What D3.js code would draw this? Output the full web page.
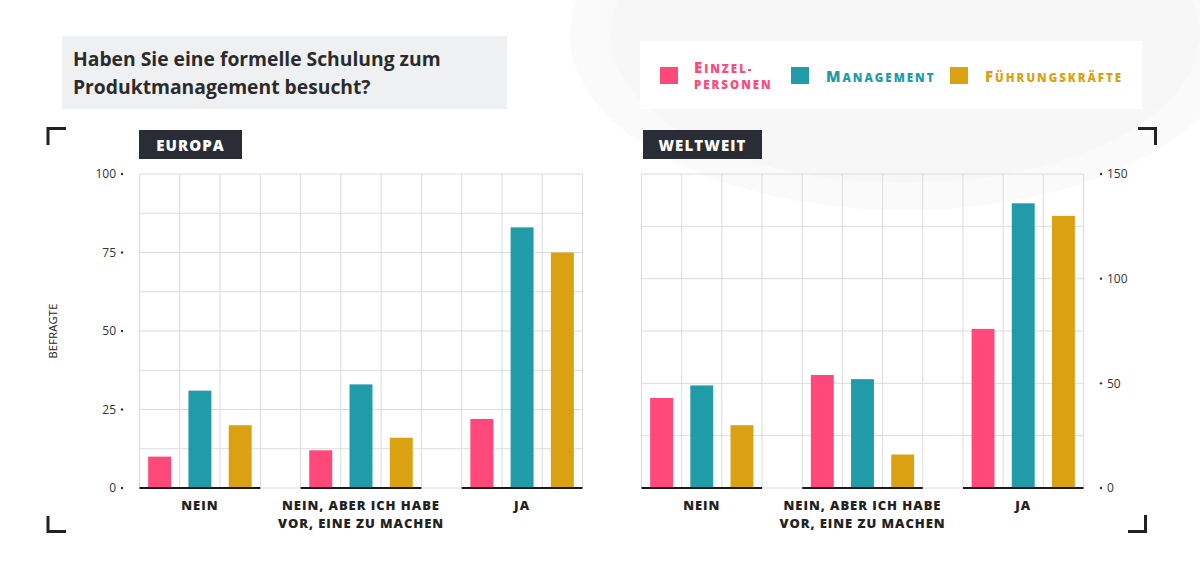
<!DOCTYPE html>
<html>
<head>
<meta charset="utf-8">
<script src="https://cdn.jsdelivr.net/npm/d3@7"></script>
<style>
  body { margin: 0; background: #fff; }
  svg { display: block; font-family: "Open Sans", "Lato", sans-serif; }
  .tick-label { font-size: 12px; fill: #333; }
  .cat-label { font-size: 13px; font-weight: 800; fill: #222; letter-spacing: 0.95px; }
</style>
</head>
<body>
<div class="chart"></div>
<script>

////////// DATA //////////

var categories = [["NEIN"], ["NEIN, ABER ICH HABE", "VOR, EINE ZU MACHEN"], ["JA"]];
var seriesNames = ["Einzelpersonen", "Management", "Führungskräfte"];
var colours = ["#ff497a", "#229ba9", "#daa212"];

var europa = [
  [10, 31, 20],
  [12, 33, 16],
  [22, 83, 75]
];
var weltweit = [
  [43, 49, 30],
  [54, 52, 16],
  [76, 136, 130]
];

var europaTicks = [0, 25, 50, 75, 100];
var weltweitTicks = [0, 50, 100, 150];


////////// SETUP //////////

var width = 1200, height = 566;

var svg = d3.select(".chart")
  .append("svg")
  .attr("width", width)
  .attr("height", height);

// faint background blob top right
svg.append("ellipse")
  .attr("cx", 905).attr("cy", 35).attr("rx", 335).attr("ry", 175)
  .attr("fill", "#fafafa");
svg.append("ellipse")
  .attr("cx", 905).attr("cy", 35).attr("rx", 295).attr("ry", 148)
  .attr("fill", "#f7f7f8");

// title box
svg.append("rect")
  .attr("x", 62).attr("y", 36).attr("width", 445).attr("height", 73)
  .attr("fill", "#eff0f2");

var title = svg.append("text")
  .attr("x", 73)
  .attr("font-size", "19.3px")
  .attr("font-weight", 700)
  .attr("fill", "#2b2b2b");
title.append("tspan").attr("x", 73).attr("y", 66).text("Haben Sie eine formelle Schulung zum");
title.append("tspan").attr("x", 73).attr("y", 94).text("Produktmanagement besucht?");


////////// LEGEND //////////

svg.append("rect")
  .attr("x", 640).attr("y", 41).attr("width", 502).attr("height", 68)
  .attr("fill", "#fff");

var legendPos = [660, 791, 950];
// each line: [large capital part, small capital part]
var legendText = [[["E", "INZEL-"], ["", "PERSONEN"]], [["M", "ANAGEMENT"]], [["F", "ÜHRUNGSKRÄFTE"]]];

legendPos.forEach(function(lx, i) {
  svg.append("rect")
    .attr("x", lx).attr("y", 67).attr("width", 18).attr("height", 17)
    .attr("fill", colours[i]);
  var lines = legendText[i];
  lines.forEach(function(line, j) {
    var t = svg.append("text")
      .attr("x", lines.length == 2 ? lx + 34 : lx + 35)
      .attr("y", lines.length == 2 ? 72.5 + j * 16.5 : 81.5)
      .attr("fill", colours[i])
      .attr("font-weight", 800)
      .style("letter-spacing", "2px");
    if (line[0]) t.append("tspan").attr("font-size", "15px").text(line[0]);
    t.append("tspan").attr("font-size", "11.5px").text(line[1]);
  });
});


////////// CORNER BRACKETS //////////

var brackets = [
  "M48,145 L48,128.5 L66,128.5",
  "M48,516 L48,531.5 L66,531.5",
  "M1138,128.5 L1155.5,128.5 L1155.5,145",
  "M1128,531.5 L1145.5,531.5 L1145.5,515"
];
svg.selectAll(".bracket")
  .data(brackets)
  .enter()
  .append("path")
  .attr("class", "bracket")
  .attr("d", function(d) { return d; })
  .attr("fill", "none")
  .attr("stroke", "#222")
  .attr("stroke-width", 3);


////////// PANELS //////////

function drawPanel(opts) {
  var x0 = opts.x0, x1 = opts.x1, top = 174, bottom = 488;

  var xGroup = d3.scaleBand()
    .domain(d3.range(categories.length))
    .range([x0, x1])
    .paddingInner(0.25)
    .paddingOuter(0);

  var colW = xGroup.step() / 4;

  var xSeries = d3.scaleBand()
    .domain(d3.range(seriesNames.length))
    .range([0, xGroup.bandwidth()])
    .paddingInner(0.43)
    .paddingOuter(0.215);

  var y = d3.scaleLinear()
    .domain([0, opts.max])
    .range([bottom, top]);

  var g = svg.append("g");

  // panel label
  g.append("rect")
    .attr("x", opts.labelX).attr("y", 130)
    .attr("width", opts.labelW).attr("height", 29)
    .attr("fill", "#2a2d35");
  g.append("text")
    .attr("x", opts.labelX + opts.labelW / 2).attr("y", 150.5)
    .attr("text-anchor", "middle")
    .attr("fill", "#fff")
    .attr("font-size", "15px")
    .attr("font-weight", 800)
    .style("letter-spacing", "1.1px")
    .text(opts.label);

  // grid
  var grid = g.append("g").attr("class", "grid");
  grid.selectAll(".vline")
    .data(d3.range(12))
    .enter()
    .append("line")
    .attr("x1", function(i) { return x0 + i * colW; })
    .attr("x2", function(i) { return x0 + i * colW; })
    .attr("y1", top).attr("y2", bottom)
    .attr("stroke", "#dcdce0")
    .attr("stroke-width", 1);
  grid.selectAll(".hline")
    .data(d3.range(0, opts.max + 0.001, opts.gridStep))
    .enter()
    .append("line")
    .attr("x1", x0).attr("x2", x1)
    .attr("y1", function(d) { return y(d); })
    .attr("y2", function(d) { return y(d); })
    .attr("stroke", "#dcdce0")
    .attr("stroke-width", 1);

  // bars
  var groups = g.selectAll(".group")
    .data(opts.data)
    .enter()
    .append("g")
    .attr("class", "group")
    .attr("transform", function(d, i) { return "translate(" + xGroup(i) + ",0)"; });

  groups.selectAll("rect")
    .data(function(d) { return d; })
    .enter()
    .append("rect")
    .attr("x", function(d, i) { return xSeries(i); })
    .attr("width", xSeries.bandwidth())
    .attr("y", function(d) { return y(d); })
    .attr("height", function(d) { return bottom - y(d); })
    .attr("fill", function(d, i) { return colours[i]; });

  // baseline per group
  groups.append("line")
    .attr("x1", 0).attr("x2", xGroup.bandwidth())
    .attr("y1", bottom).attr("y2", bottom)
    .attr("stroke", "#1a1a1a")
    .attr("stroke-width", 2);

  // category labels
  groups.append("text")
    .attr("class", "cat-label")
    .attr("text-anchor", "middle")
    .selectAll("tspan")
    .data(function(d, i) { return categories[i]; })
    .enter()
    .append("tspan")
    .attr("x", xGroup.bandwidth() / 2)
    .attr("y", function(d, j) { return 509.5 + j * 18; })
    .text(function(d) { return d; });

  // y axis
  var axis = g.append("g").attr("class", "y-axis");
  var ticks = axis.selectAll(".tick")
    .data(opts.ticks)
    .enter()
    .append("g")
    .attr("transform", function(d) { return "translate(0," + y(d) + ")"; });

  ticks.append("circle")
    .attr("cx", opts.dotX).attr("cy", 0).attr("r", 1.2)
    .attr("fill", "#333");
  ticks.append("text")
    .attr("class", "tick-label")
    .attr("x", opts.textX)
    .attr("dy", "0.35em")
    .attr("text-anchor", opts.anchor)
    .text(function(d) { return d; });
}

drawPanel({
  x0: 139.5, x1: 582.5, max: 100, gridStep: 12.5,
  data: europa, ticks: europaTicks,
  label: "EUROPA", labelX: 139, labelW: 103,
  dotX: 122, textX: 116, anchor: "end"
});

drawPanel({
  x0: 641.5, x1: 1083.5, max: 150, gridStep: 25,
  data: weltweit, ticks: weltweitTicks,
  label: "WELTWEIT", labelX: 643, labelW: 119,
  dotX: 1101, textX: 1107, anchor: "start"
});

// y axis title
svg.append("text")
  .attr("transform", "translate(57,331) rotate(-90)")
  .attr("text-anchor", "middle")
  .attr("font-size", "11px")
  .attr("fill", "#222")
  .style("letter-spacing", "0.3px")
  .text("BEFRAGTE");

</script>
</body>
</html>
